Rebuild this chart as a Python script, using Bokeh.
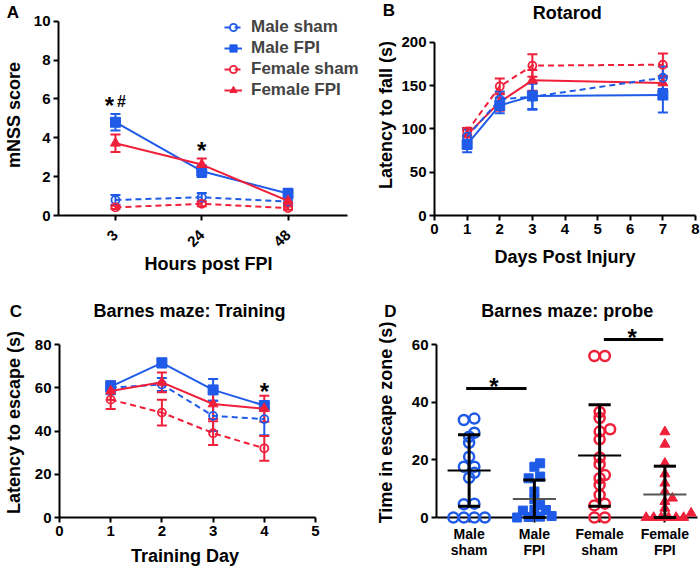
import math
from bokeh.plotting import figure
from bokeh.core.properties import value
from bokeh.models import (ColumnDataSource, Whisker, TeeHead, Legend, LegendItem,
                          Label, FixedTicker, Range1d)
from bokeh.layouts import row, column
from bokeh.embed import file_html
from bokeh.resources import INLINE

# ---------------- data ----------------
# Panel A: mNSS score (mean, SEM) vs hours post FPI
a_hours = ["3", "24", "48"]
a_yticks = [0, 2, 4, 6, 8, 10]
a_male_sham = [0.80, 0.94, 0.72]
a_male_sham_err = [0.25, 0.22, 0.20]
a_male_fpi = [4.80, 2.28, 1.13]
a_male_fpi_err = [0.42, 0.30, 0.25]
a_female_sham = [0.42, 0.60, 0.38]
a_female_sham_err = [0.08, 0.12, 0.08]
a_female_fpi = [3.72, 2.62, 0.75]
a_female_fpi_err = [0.45, 0.32, 0.15]

# Panel B: Rotarod latency to fall (s)
b_days = [1, 2, 3, 7]
b_xticks = [0, 1, 2, 3, 4, 5, 6, 7, 8]
b_yticks = [0, 50, 100, 150, 200]
b_male_sham = [91, 134, 137, 159]
b_male_sham_err = [8, 9, 15, 13]
b_male_fpi = [82, 127, 138, 139]
b_male_fpi_err = [9, 9, 15, 20]
b_female_sham = [97, 149, 173, 174]
b_female_sham_err = [4, 9, 13, 13]
b_female_fpi = [93, 131, 156, 153]
b_female_fpi_err = [8, 10, 12, 8]

# Panel C: Barnes maze training latency to escape (s)
c_days = [1, 2, 3, 4]
c_xticks = [0, 1, 2, 3, 4, 5]
c_yticks = [0, 20, 40, 60, 80]
c_male_sham = [60.0, 61.5, 47.0, 45.5]
c_male_sham_err = [3.0, 3.0, 7.0, 7.5]
c_male_fpi = [60.5, 71.5, 59.0, 51.8]
c_male_fpi_err = [2.5, 2.0, 5.0, 1.0]
c_female_sham = [54.5, 48.5, 39.0, 32.0]
c_female_sham_err = [4.3, 6.0, 5.5, 5.7]
c_female_fpi = [58.5, 62.5, 52.5, 50.3]
c_female_fpi_err = [4.0, 4.6, 7.0, 6.0]

# Panel D: Barnes maze probe, time in escape zone (s)
d_group_labels = ["Male\nsham", "Male\nFPI", "Female\nsham", "Female\nFPI"]
d_yticks = [0, 20, 40, 60]
d_male_sham = [34.3, 33.8, 29.4, 28.0, 25.9, 21.1, 17.6, 17.6, 15.5, 13.8, 4.8, 4.6, 0, 0, 0, 0]
d_male_fpi = [18.8, 17.6, 14.2, 13.6, 9.0, 6.3, 4.4, 2.6, 2.6, 2.4, 0.5, 0.3, 0.2, 0.0]
d_female_sham = [56, 56, 36.6, 34.5, 30.6, 29.8, 27.1, 20.8, 18.5, 14.7, 13.6, 11.3, 7.8, 4.8, 4.2, 0, 0]
d_female_fpi = [29.7, 25.4, 18.8, 15.1, 11.9, 9.0, 6.7, 5.5, 3.2, 1.5, 0, 0, 0, 0, 0, 0]
d_mean = [16.3, 6.4, 21.5, 8.0]
d_sd = [12.4, 6.6, 17.6, 9.8]
# significance annotations (bar ends in category units, bar height, star x)
d_sig_x0 = [0.455, 2.565]
d_sig_x1 = [1.38, 3.475]
d_sig_y = [44.7, 61.7]
d_star_x = [0.88, 3.0]

# ---------------- style / geometry ----------------
FONT = "Liberation Sans"
BLUE = "#1F5BE8"
RED = "#F0203A"
W_L, W_R = 358, 342
H_TOP, H_BOT = 290, 278
TOP_T, TOP_B = 14, 75          # top row borders (shared by A and B)
BOT_T, BOT_B = 37, 51          # bottom row borders (shared by C and D)
TOP_FH = H_TOP - TOP_T - TOP_B
BOT_FH = H_BOT - BOT_T - BOT_B
A_GAP = 6.7                    # px between frame top and the 10 tick in A
B_GAP = 27.7                   # px between frame top and the 200 tick in B
BOT_GAP = 17                   # px between frame top and the top tick in C/D
A_LEFT, A_AXIS_END = 55, 292   # A: left border, x-axis length in px
A_X0, A_X1 = 0.34, 3.69
TOP_FB = H_TOP - TOP_B         # frame bottom (screen y) of the top row
BOT_FB = H_TOP + H_BOT - BOT_B  # frame bottom (screen y) of the bottom row


def base_fig(w, h, xr, yr, left, right, top, bottom):
    p = figure(width=w, height=h, x_range=xr, y_range=yr, output_backend="svg",
               toolbar_location=None, min_border_left=left, min_border_right=right,
               min_border_top=top, min_border_bottom=bottom)
    p.xgrid.visible = False
    p.ygrid.visible = False
    p.outline_line_color = None
    p.background_fill_color = "white"
    p.border_fill_color = "white"
    for ax in p.axis:
        ax.axis_line_width = 2
        ax.axis_line_color = "black"
        ax.major_tick_line_width = 2
        ax.major_tick_line_color = "black"
        ax.major_tick_out = 5
        ax.major_tick_in = 0
        ax.minor_tick_line_color = None
        ax.major_label_text_font = FONT
        ax.major_label_text_font_style = "bold"
        ax.major_label_text_font_size = "15px"
        ax.major_label_text_color = "black"
        ax.major_label_standoff = 3
        ax.axis_label_text_font = FONT
        ax.axis_label_text_font_style = "bold"
        ax.axis_label_text_font_size = "18px"
        ax.axis_label_text_color = "black"
    return p


def series(p, xs, ys, errs, color, dashed, marker, filled, size):
    src = ColumnDataSource(dict(x=xs, y=ys,
                                lo=[y - e for y, e in zip(ys, errs)],
                                hi=[y + e for y, e in zip(ys, errs)]))
    w = Whisker(base="x", lower="lo", upper="hi", source=src, line_color=color, line_width=2,
                upper_head=TeeHead(size=10, line_color=color, line_width=2),
                lower_head=TeeHead(size=10, line_color=color, line_width=2))
    p.add_layout(w)
    ln = p.line("x", "y", source=src, line_color=color, line_width=2,
                line_dash="6 4" if dashed else "solid")
    sc = p.scatter("x", "y", source=src, marker=marker, size=size, line_color=color,
                   line_width=1.8 if not filled else 1,
                   fill_color=color if filled else None)
    return ln, sc


def corner_text(p, text, sx, sy, frame_left, frame_bottom, size):
    """Text at figure-relative pixel position (sx, sy), anchored at the frame's bottom-left corner."""
    r = p.text(x=[p.x_range.start], y=[p.y_range.start], text=[text],
               x_offset=sx - frame_left, y_offset=sy - frame_bottom,
               text_font=value(FONT), text_font_style="bold", text_font_size=size,
               text_align="center", text_baseline="middle", text_color="black")
    r.level = "overlay"


def star(p, x, y, text="*", size="24px", dx=0, dy=0):
    p.add_layout(Label(x=x, y=y, text=text, x_offset=dx, y_offset=dy,
                       text_font=FONT, text_font_style="bold", text_font_size=size,
                       text_align="center", text_baseline="middle", text_color="black"))


# ---------------- Panel A ----------------
a_ppu = A_AXIS_END / (A_X1 - A_X0)
a_xend = A_X0 + (W_L - A_LEFT) / a_ppu
a_ytop = a_yticks[-1] * TOP_FH / (TOP_FH - A_GAP)
pA = base_fig(W_L, H_TOP, Range1d(A_X0, a_xend), Range1d(0, a_ytop), A_LEFT, 0, TOP_T, TOP_B)
xa = list(range(1, len(a_hours) + 1))
pA.xaxis.ticker = FixedTicker(ticks=xa)
pA.xaxis.bounds = (A_X0, A_X1)
pA.yaxis.bounds = (a_yticks[0], a_yticks[-1])
pA.xaxis.major_label_overrides = {x: h for x, h in zip(xa, a_hours)}
pA.xaxis.major_label_orientation = math.pi / 4
pA.xaxis.major_label_standoff = 12
pA.yaxis.ticker = FixedTicker(ticks=a_yticks)
pA.xaxis.axis_label = "Hours post FPI"
pA.yaxis.axis_label = "mNSS score"
pA.xaxis.axis_label_standoff = 0
pA.yaxis.axis_label_standoff = 7
rA = [
    series(pA, xa, a_male_sham, a_male_sham_err, BLUE, True, "circle", False, 8),
    series(pA, xa, a_male_fpi, a_male_fpi_err, BLUE, False, "square", True, 10),
    series(pA, xa, a_female_sham, a_female_sham_err, RED, True, "circle", False, 8),
    series(pA, xa, a_female_fpi, a_female_fpi_err, RED, False, "triangle", True, 10),
]
legA = Legend(items=[LegendItem(label=n, renderers=list(r)) for n, r in
                     zip(["Male sham", "Male FPI", "Female sham", "Female FPI"], rA)],
              location=(166, 115), border_line_color=None, background_fill_alpha=0,
              label_text_font=FONT, label_text_font_style="bold", label_text_font_size="17px",
              glyph_width=18, glyph_height=20, label_height=20, spacing=1, padding=0,
              margin=0, label_standoff=9)
pA.add_layout(legA)
star(pA, 1, 5.92, "*", "24px", dx=-6, dy=-5)
star(pA, 1, 5.92, "#", "16px", dx=6, dy=-1)
star(pA, 2, 3.6, "*", "24px", dy=-5)
corner_text(pA, "A", 9.5, 12, A_LEFT, TOP_FB, "17px")

# ---------------- Panel B ----------------
B_LEFT = 76
b_top = b_yticks[-1] * TOP_FH / (TOP_FH - B_GAP)
pB = base_fig(W_R, H_TOP, Range1d(b_xticks[0], b_xticks[-1]), Range1d(0, b_top), B_LEFT, 5, TOP_T, TOP_B)
pB.xaxis.ticker = FixedTicker(ticks=b_xticks)
pB.yaxis.ticker = FixedTicker(ticks=b_yticks)
pB.yaxis.bounds = (b_yticks[0], b_yticks[-1])
pB.xaxis.axis_label = "Days Post Injury"
pB.yaxis.axis_label = "Latency to fall (s)"
pB.xaxis.axis_label_standoff = 10
pB.yaxis.axis_label_standoff = 2
series(pB, b_days, b_female_sham, b_female_sham_err, RED, True, "circle", False, 8)
series(pB, b_days, b_female_fpi, b_female_fpi_err, RED, False, "triangle", True, 10)
series(pB, b_days, b_male_sham, b_male_sham_err, BLUE, True, "circle", False, 8)
series(pB, b_days, b_male_fpi, b_male_fpi_err, BLUE, False, "square", True, 10)
corner_text(pB, "Rotarod", 566.7 - W_L, 12, B_LEFT, TOP_FB, "18px")
corner_text(pB, "B", 388.5 - W_L, 10, B_LEFT, TOP_FB, "17px")

# ---------------- Panel C ----------------
C_LEFT = 53
c_top = c_yticks[-1] * BOT_FH / (BOT_FH - BOT_GAP)
pC = base_fig(W_L, H_BOT, Range1d(c_xticks[0], c_xticks[-1]), Range1d(0, c_top), C_LEFT, 43, BOT_T, BOT_B)
pC.xaxis.ticker = FixedTicker(ticks=c_xticks)
pC.yaxis.ticker = FixedTicker(ticks=c_yticks)
pC.yaxis.bounds = (c_yticks[0], c_yticks[-1])
pC.xaxis.axis_label = "Training  Day"
pC.yaxis.axis_label = "Latency to escape (s)"
pC.xaxis.axis_label_standoff = 7
pC.yaxis.axis_label_standoff = 8
series(pC, c_days, c_male_sham, c_male_sham_err, BLUE, True, "circle", False, 8)
series(pC, c_days, c_female_sham, c_female_sham_err, RED, True, "circle", False, 8)
series(pC, c_days, c_male_fpi, c_male_fpi_err, BLUE, False, "square", True, 10)
series(pC, c_days, c_female_fpi, c_female_fpi_err, RED, False, "triangle", True, 10)
star(pC, 4, 60.7, "*", "24px", dy=-5)
corner_text(pC, "Barnes maze: Training", 183, 310.7 - H_TOP, C_LEFT, BOT_FB - H_TOP, "18px")
corner_text(pC, "C", 9.5, 310.5 - H_TOP, C_LEFT, BOT_FB - H_TOP, "17px")

# ---------------- Panel D ----------------
D_LEFT, D_RIGHT = 78, 3
d_top = d_yticks[-1] * BOT_FH / (BOT_FH - BOT_GAP)
pD = base_fig(W_R, H_BOT, Range1d(0, len(d_group_labels)), Range1d(0, d_top), D_LEFT, D_RIGHT, BOT_T, BOT_B)
centers = [i + 0.5 for i in range(len(d_group_labels))]
pD.xaxis.ticker = FixedTicker(ticks=centers)
pD.xaxis.major_label_overrides = {c: g for c, g in zip(centers, d_group_labels)}
pD.xaxis.major_label_text_font_size = "14px"
pD.xaxis.major_label_text_line_height = 1.05
pD.yaxis.ticker = FixedTicker(ticks=d_yticks)
pD.yaxis.bounds = (d_yticks[0], d_yticks[-1])
pD.yaxis.axis_label = "Time in escape zone (s)"
pD.yaxis.axis_label_standoff = 13
corner_text(pD, "Barnes maze: probe", 566.7 - W_L, 310.7 - H_TOP, D_LEFT, BOT_FB - H_TOP, "18px")
corner_text(pD, "D", 390 - W_L, 311 - H_TOP, D_LEFT, BOT_FB - H_TOP, "17px")

xpx = (W_R - D_LEFT - D_RIGHT) / float(len(d_group_labels))
ypx = BOT_FH / d_top


def swarm(vals, step, row_tol=0.8, thresh=6.0):
    order = sorted(range(len(vals)), key=lambda i: vals[i])
    rows = []
    for i in order:
        if rows and vals[i] - vals[rows[-1][0]] <= row_tol:
            rows[-1].append(i)
        else:
            rows.append([i])
    placed = []
    offs = [0.0] * len(vals)
    for r in rows:
        n = len(r)
        base = [(k - (n - 1) / 2.0) * step for k in range(n)]
        for m in range(80):
            shift = ((m + 1) // 2) * 0.5 * step * (1 if m % 2 == 1 else -1)
            ok = True
            for k, i in enumerate(r):
                px, py = base[k] + shift, vals[i] * ypx
                for qx, qy in placed:
                    if math.hypot(px - qx, py - qy) < thresh:
                        ok = False
                        break
                if not ok:
                    break
            if ok:
                for k, i in enumerate(r):
                    offs[i] = (base[k] + shift) / xpx
                    placed.append((base[k] + shift, vals[i] * ypx))
                break
    return offs


groups = [d_male_sham, d_male_fpi, d_female_sham, d_female_fpi]
styles = [(BLUE, "circle", False, 10, 10.5), (BLUE, "square", True, 9, 11.5),
          (RED, "circle", False, 10, 10.5), (RED, "triangle", True, 10, 7.5)]
mean_colors = ["black", "#555555", "black", "#555555"]
for c, vals, (col, mk, filled, sz, stp) in zip(centers, groups, styles):
    offs = swarm(vals, stp)
    r = pD.scatter([c + o for o in offs], vals, marker=mk, size=sz, line_color=col,
                   line_width=2.5 if not filled else 1, fill_color=col if filled else None)
    r.level = "overlay"

mean_src = ColumnDataSource(dict(
    x0=[c - 0.33 for c in centers], x1=[c + 0.33 for c in centers], y=d_mean,
    c=centers, lo=[max(0, m - s) for m, s in zip(d_mean, d_sd)],
    hi=[m + s for m, s in zip(d_mean, d_sd)], col=mean_colors,
    cx0=[c - 0.17 for c in centers], cx1=[c + 0.17 for c in centers]))
pD.segment("x0", "y", "x1", "y", source=mean_src, line_color="col", line_width=2, level="overlay")
pD.segment("c", "lo", "c", "hi", source=mean_src, line_color="black", line_width=3, level="overlay")
pD.segment("cx0", "hi", "cx1", "hi", source=mean_src, line_color="black", line_width=3, level="overlay")
pD.segment("cx0", "lo", "cx1", "lo", source=mean_src, line_color="black", line_width=3, level="overlay")

sig_src = ColumnDataSource(dict(x0=d_sig_x0, x1=d_sig_x1, y=d_sig_y))
pD.segment("x0", "y", "x1", "y", source=sig_src, line_color="black", line_width=3)
for sx, y in zip(d_star_x, d_sig_y):
    star(pD, sx, y + 2.3, "*", "24px", dy=-5)

layout = column(row(pA, pB), row(pC, pD))
html = file_html(layout, INLINE, title="Injury behaviour")
with open("out.html", "w") as f:
    f.write(html)
